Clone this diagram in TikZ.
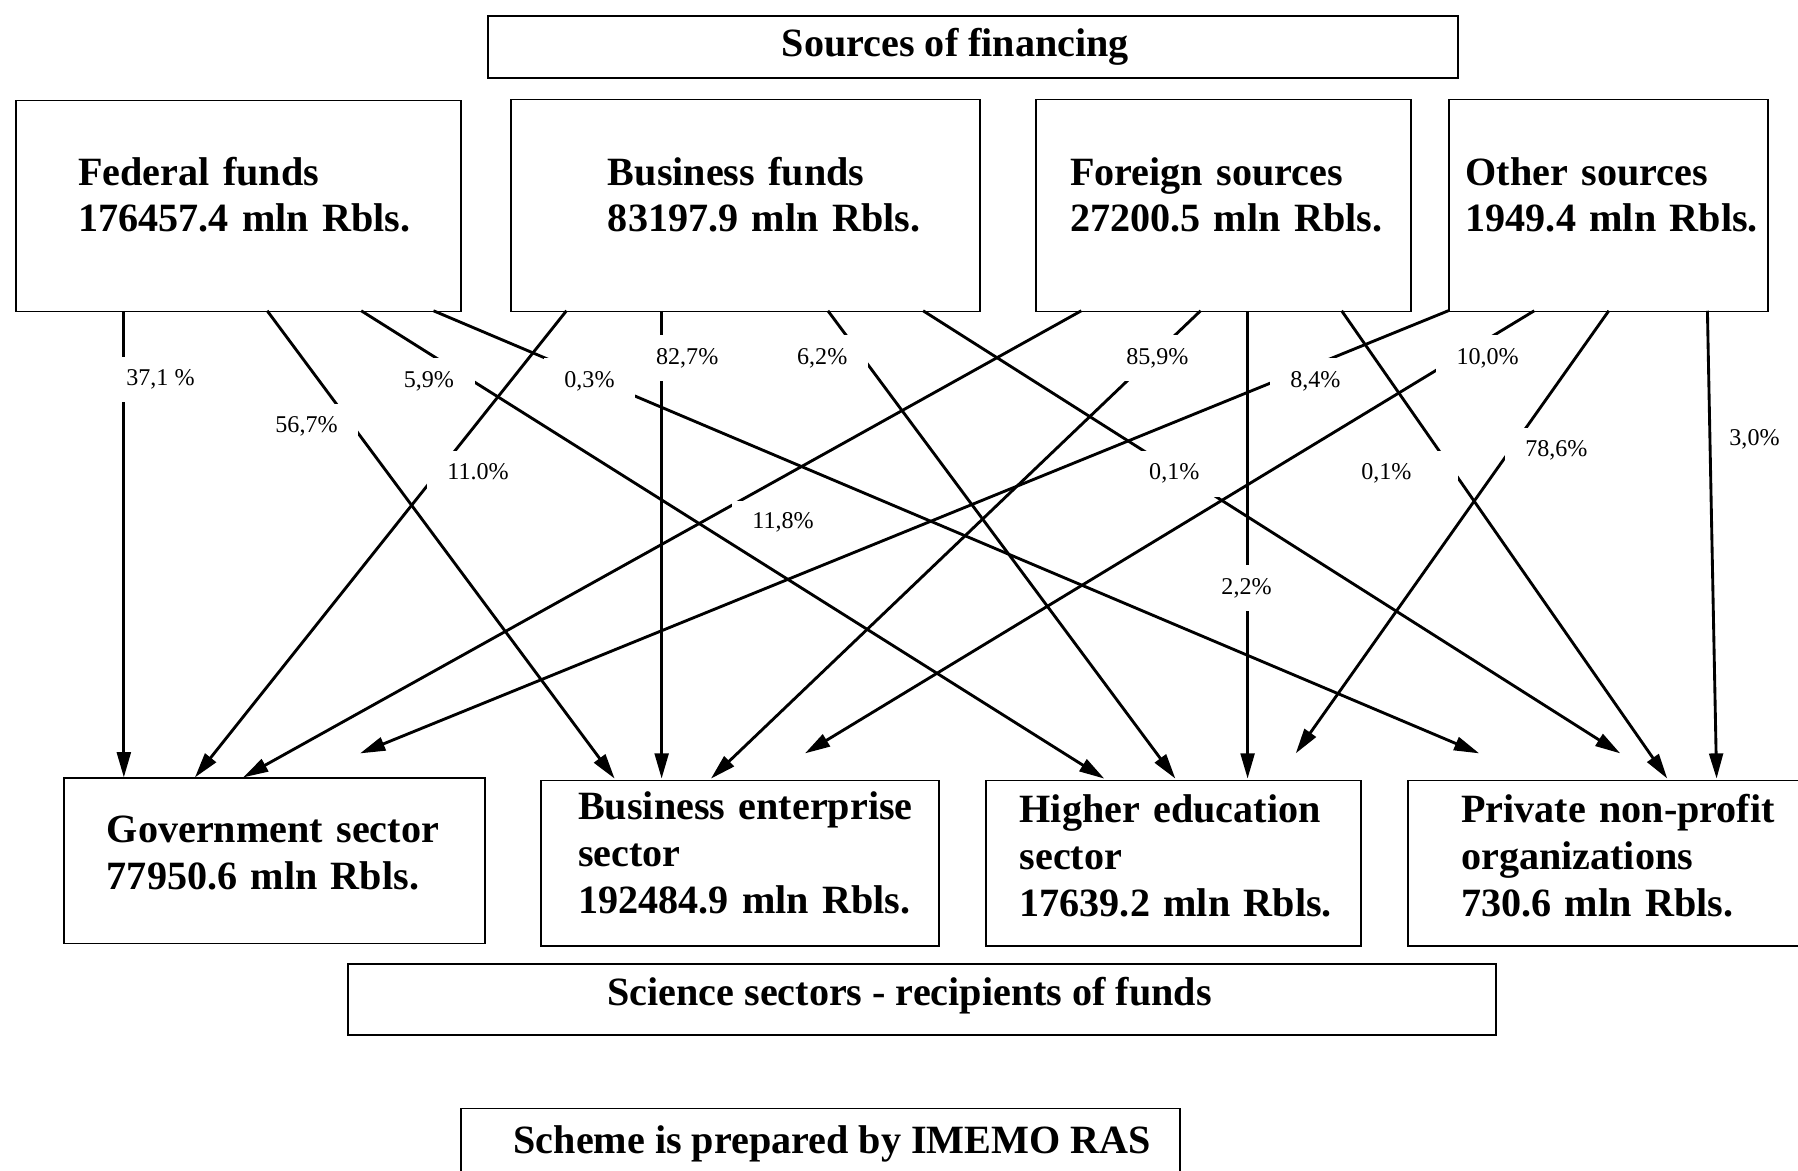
\documentclass[tikz,border=0pt]{standalone}
\usepackage{fontspec}
\setmainfont{Liberation Serif}
\usetikzlibrary{arrows.meta}
\begin{document}
\begin{tikzpicture}[x=1pt,y=-1pt,
  box/.style={draw, line width=1.5pt, inner sep=0pt, anchor=north west},
  bigA/.style={font=\fontsize{35}{40}\selectfont\bfseries},
  bigB/.style={font=\fontsize{35}{41}\selectfont\bfseries},
  btxt/.style={text width=300pt, align=left, inner sep=0pt, anchor=base west},
  arr/.style={line width=2.5pt, -{Triangle[length=22pt,width=12pt]}},
  lab/.style={fill=white, font=\fontsize{21}{24}\selectfont, inner xsep=18pt, inner ysep=0pt,
    text height=14pt, text depth=3pt, minimum height=40pt, anchor=west}]
\useasboundingbox (0,0) rectangle (1568,1021);

% title boxes
\node[box, bigA, minimum width=846pt, minimum height=54pt] (src) at (425,13) {\hspace*{-31pt}Sources of financing};
\node[box, bigA, minimum width=1001pt, minimum height=62pt, text height=20pt, text depth=10pt] (sci) at (303,840) {\hspace*{-22pt}Science sectors - recipients of funds};
\node[box, bigA, minimum width=627pt, minimum height=62pt] (imemo) at (401,966) {\hspace*{21pt}Scheme is prepared by IMEMO RAS};

% source boxes
\node[box, minimum width=388pt, minimum height=184pt] (fed) at (13,87) {};
\node[btxt, bigA] (fedT) at (68,162) {Federal funds\\176457.4 mln Rbls.};
\node[box, minimum width=409pt, minimum height=185pt] (bus) at (445,86) {};
\node[btxt, bigA] (busT) at (530,162) {Business funds\\83197.9 mln Rbls.};
\node[box, minimum width=327pt, minimum height=185pt] (for) at (903,86) {};
\node[btxt, bigA] (forT) at (933,162) {Foreign sources\\27200.5 mln Rbls.};
\node[box, minimum width=278pt, minimum height=185pt] (oth) at (1263,86) {};
\node[btxt, bigA] (othT) at (1278,162) {Other sources\\1949.4 mln Rbls.};

% recipient boxes
\node[box, minimum width=367pt, minimum height=144pt] (gov) at (55,678) {};
\node[btxt, bigB] (govT) at (93,735) {Government sector\\77950.6 mln Rbls.};
\node[box, minimum width=347pt, minimum height=144pt] (bes) at (471,680) {};
\node[btxt, bigB] (besT) at (504,715) {Business enterprise\\sector\\192484.9 mln Rbls.};
\node[box, minimum width=327pt, minimum height=144pt] (hes) at (859,680) {};
\node[btxt, bigB] (hesT) at (889,717) {Higher education\\sector\\17639.2 mln Rbls.};
\node[box, minimum width=365pt, minimum height=144pt] (pnp) at (1227,680) {};
\node[btxt, bigB] (pnpT) at (1274,717) {Private non-profit\\organizations\\730.6 mln Rbls.};

% connector ends
\coordinate (s1) at (108,271);  \coordinate (e1) at (108,678);
\coordinate (s2) at (233,271);  \coordinate (e2) at (536,679);
\coordinate (s3) at (315,271);  \coordinate (e3) at (963,679);
\coordinate (s4) at (378,271);  \coordinate (e4) at (1290,657);
\coordinate (s5) at (494,271);  \coordinate (e5) at (170,678);
\coordinate (s6) at (577,271);  \coordinate (e6) at (577,679);
\coordinate (s7) at (722,271);  \coordinate (e7) at (1025,679);
\coordinate (s8) at (805,271);  \coordinate (e8) at (1413,657);
\coordinate (s9) at (943,271);  \coordinate (e9) at (212,678);
\coordinate (s10) at (1047,271); \coordinate (e10) at (620,679);
\coordinate (s11) at (1088,271); \coordinate (e11) at (1088,679);
\coordinate (s12) at (1170,271); \coordinate (e12) at (1454,679);
\coordinate (s13) at (1263,271); \coordinate (e13) at (314,657);
\coordinate (s14) at (1338,271); \coordinate (e14) at (702,657);
\coordinate (s15) at (1403,271); \coordinate (e15) at (1130,657);
\coordinate (s16) at (1489,271); \coordinate (e16) at (1497,679);

\foreach \i in {1,...,16} {\draw[arr] (s\i) -- (e\i);}

% percentage labels
\node[lab] (l1)  at (92,331)   {37,1 \%};
\node[lab] (l2)  at (222,372)  {56,7\%};
\node[lab] (l3)  at (334,332)  {5,9\%};
\node[lab] (l4)  at (474,332)  {0,3\%};
\node[lab] (l5)  at (372,413)  {11.0\%};
\node[lab] (l6)  at (554,312)  {82,7\%};
\node[lab] (l7)  at (677,312)  {6,2\%};
\node[lab] (l8)  at (984,413)  {0,1\%};
\node[lab, minimum height=36pt] (l9)  at (638,455)  {11,8\%};
\node[lab] (l10) at (964,312)  {85,9\%};
\node[lab] (l11) at (1047,513) {2,2\%};
\node[lab, text width=66pt, align=left] (l12) at (1169,413) {0,1\%};
\node[lab] (l13) at (1107,332) {8,4\%};
\node[lab] (l14) at (1252,312) {10,0\%};
\node[lab] (l15) at (1312,393) {78,6\%};
\node[lab, inner xsep=10pt] (l16) at (1498,383) {3,0\%};
\end{tikzpicture}
\end{document}
